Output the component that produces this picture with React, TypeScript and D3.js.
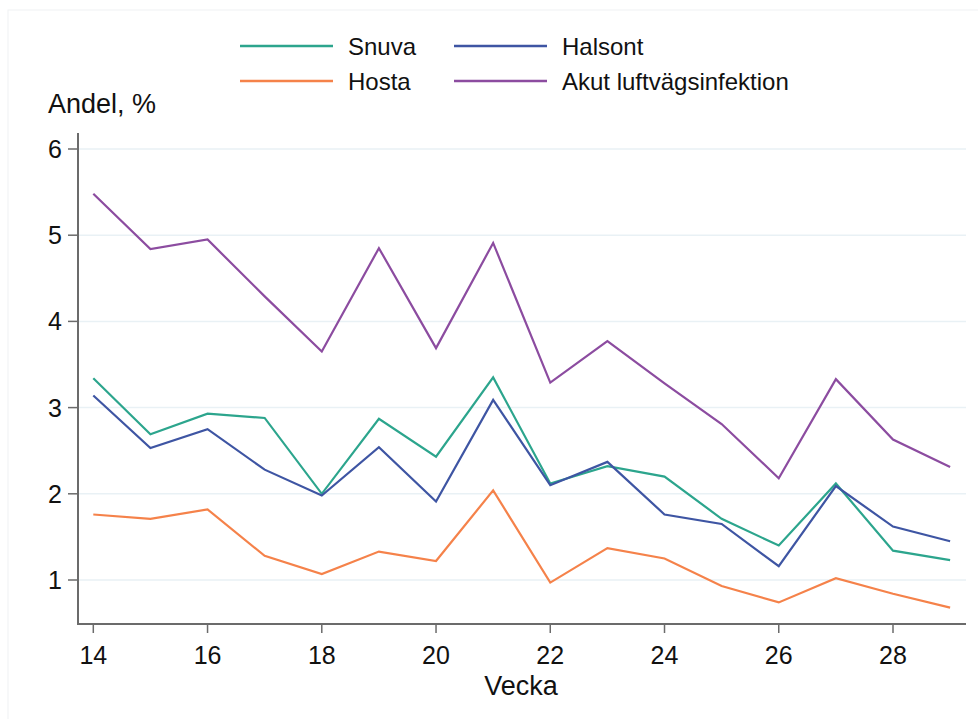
import React from "react";
import * as d3 from "d3";

const weeks = [14, 15, 16, 17, 18, 19, 20, 21, 22, 23, 24, 25, 26, 27, 28, 29];
const snuva = [3.34, 2.69, 2.93, 2.88, 2.0, 2.87, 2.43, 3.35, 2.12, 2.32, 2.2, 1.71, 1.4, 2.12, 1.34, 1.23];
const hosta = [1.76, 1.71, 1.82, 1.28, 1.07, 1.33, 1.22, 2.04, 0.97, 1.37, 1.25, 0.93, 0.74, 1.02, 0.84, 0.68];
const halsont = [3.14, 2.53, 2.75, 2.28, 1.98, 2.54, 1.91, 3.09, 2.1, 2.37, 1.76, 1.65, 1.16, 2.09, 1.62, 1.45];
const akut = [5.48, 4.84, 4.95, 4.29, 3.65, 4.85, 3.69, 4.91, 3.29, 3.77, 3.28, 2.81, 2.18, 3.33, 2.63, 2.31];

const xTicks = [14, 16, 18, 20, 22, 24, 26, 28];
const yTicks = [1, 2, 3, 4, 5, 6];

const series = [
  { name: "Snuva", values: snuva, color: "#2ca58d" },
  { name: "Halsont", values: halsont, color: "#3e55a3" },
  { name: "Hosta", values: hosta, color: "#f5824a" },
  { name: "Akut luftvägsinfektion", values: akut, color: "#8c4ca0" },
];

const font = "'Liberation Sans', Arial, sans-serif";

export default function App() {
  const left = 78;
  const right = 966;
  const top = 133;
  const bottom = 624;

  // x: 14 at 93.3, 28 at 893
  const x = d3.scaleLinear().domain([14, 28]).range([93.3, 893]);
  const y = d3.scaleLinear().domain([1, 6]).range([580, 149]);

  const line = (vals: number[]) =>
    d3.line<number>()
      .x((_, i) => x(weeks[i]))
      .y((d) => y(d))(vals) || "";

  // legend layout: two columns, two rows
  const legendCols = [240, 454];
  const legendRows = [46, 81];

  return (
    <svg
      width={978}
      height={719}
      style={{ position: "absolute", left: 0, top: 0, background: "#fff", fontFamily: font }}
    >
      <rect x={8} y={10} width={1000} height={800} fill="none" stroke="#f0f2f4" strokeWidth={1} />

      {/* grid */}
      {yTicks.map((t) => (
        <line key={"g" + t} x1={left} x2={right} y1={y(t)} y2={y(t)} stroke="#e9f1f5" strokeWidth={1.5} />
      ))}

      {/* axes */}
      <line x1={left} x2={left} y1={top} y2={bottom} stroke="#6b6b6b" strokeWidth={2} />
      <line x1={left - 1} x2={right} y1={bottom} y2={bottom} stroke="#6b6b6b" strokeWidth={2} />

      {yTicks.map((t) => (
        <g key={"y" + t}>
          <line x1={left - 10} x2={left} y1={y(t)} y2={y(t)} stroke="#6b6b6b" strokeWidth={1.5} />
          <text x={62} y={y(t)} dy="0.36em" textAnchor="end" fontSize={25} fill="#111">
            {t}
          </text>
        </g>
      ))}

      {xTicks.map((t) => (
        <g key={"x" + t}>
          <line x1={x(t)} x2={x(t)} y1={bottom} y2={bottom + 9} stroke="#6b6b6b" strokeWidth={1.5} />
          <text x={x(t)} y={664} textAnchor="middle" fontSize={25} fill="#111">
            {t}
          </text>
        </g>
      ))}

      <text x={48} y={113} fontSize={27} fill="#111">Andel, %</text>
      <text x={521} y={695} textAnchor="middle" fontSize={27} fill="#111">Vecka</text>

      {/* lines */}
      {series.map((s) => (
        <path key={s.name} d={line(s.values)} fill="none" stroke={s.color} strokeWidth={2.2} strokeLinejoin="miter" />
      ))}

      {/* legend */}
      {series.map((s, i) => {
        const col = legendCols[i % 2 === 0 ? 0 : 1];
        const row = legendRows[i < 2 ? 0 : 1];
        return (
          <g key={"l" + s.name}>
            <line x1={col} x2={col + 93} y1={row} y2={row} stroke={s.color} strokeWidth={2.5} />
            <text x={col + 108} y={row + 9} fontSize={24} fill="#111">{s.name}</text>
          </g>
        );
      })}
    </svg>
  );
}
